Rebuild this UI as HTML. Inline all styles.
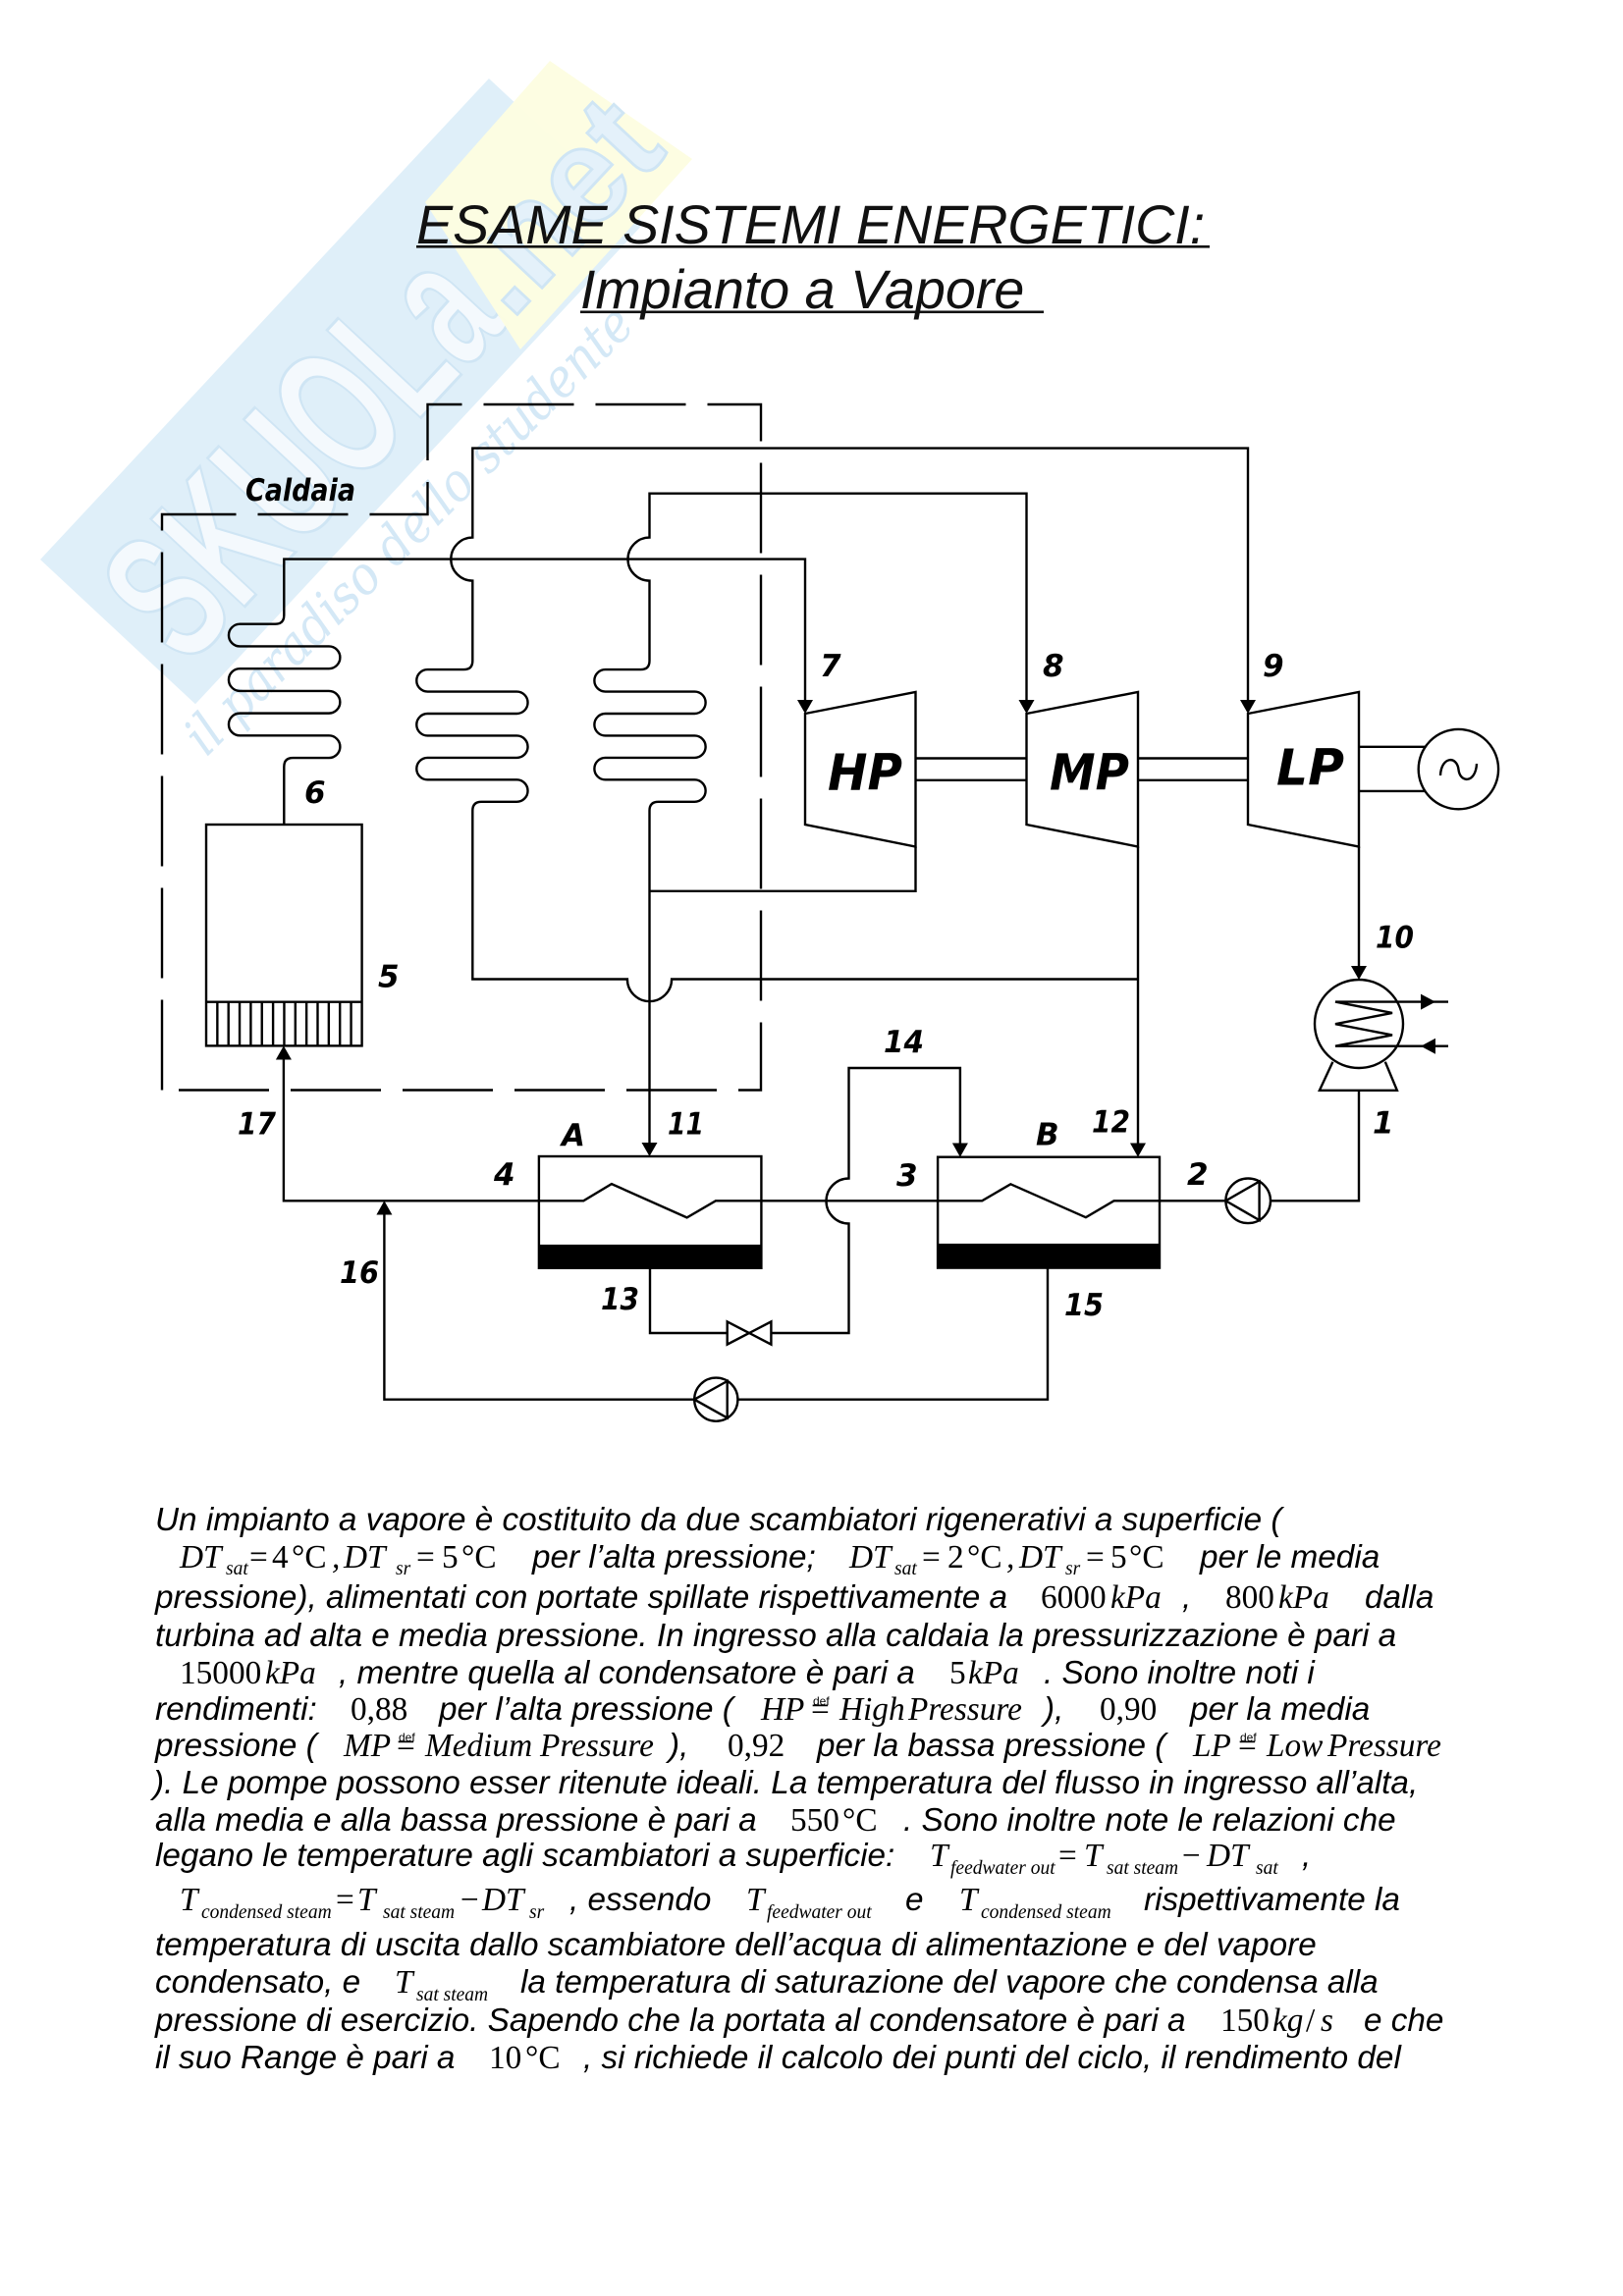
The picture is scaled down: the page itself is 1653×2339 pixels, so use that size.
<!DOCTYPE html>
<html>
<head>
<meta charset="utf-8">
<style>
html,body{margin:0;padding:0;background:#fff;}
svg{display:block;}
.p{font-family:"Liberation Sans",Arial,sans-serif;font-style:italic;font-size:33.3px;fill:#000;}
.m{font-family:"Liberation Serif","Times New Roman",serif;font-style:italic;font-size:33.3px;fill:#000;}
.u{font-style:normal;}
.s{font-size:19.5px;}
.df{font-family:"Liberation Sans",Arial,sans-serif;font-size:12px;fill:#000;}
.lb{font-family:"DejaVu Sans","Liberation Sans",sans-serif;font-weight:bold;font-style:oblique;font-size:31px;fill:#000;}
.big{font-family:"DejaVu Sans","Liberation Sans",sans-serif;font-weight:bold;font-style:oblique;font-size:51px;fill:#000;}
.ln{fill:none;stroke:#000;stroke-width:2.4;stroke-linejoin:miter;}
.ttl{font-family:"Liberation Sans",Arial,sans-serif;font-style:italic;font-size:55.6px;fill:#111;}
</style>
</head>
<body>
<svg width="1653" height="2339" viewBox="0 0 1653 2339" xmlns="http://www.w3.org/2000/svg">
<rect x="0" y="0" width="1653" height="2339" fill="#fff"/>

<!-- watermark -->
<g transform="translate(41,570) rotate(-47)">
  <rect x="0" y="0" width="670" height="216" fill="#dfeff9"/>
  <text x="20" y="185" font-family="Liberation Sans, sans-serif" font-weight="bold" font-size="190" fill="#f4f9fd" stroke="#cfe5f4" stroke-width="3" textLength="480" lengthAdjust="spacingAndGlyphs">SKUOLa</text>
</g>
<polygon points="560,62 705,162 530,356 433,206" fill="#fdfde0" opacity="0.95"/>
<g transform="translate(41,570) rotate(-47)">
  <text x="505" y="185" font-family="Liberation Sans, sans-serif" font-weight="bold" font-size="140" fill="#e4f1fa" stroke="#cfe5f4" stroke-width="3" textLength="235" lengthAdjust="spacingAndGlyphs">.net</text>
</g>
<text transform="translate(210,772) rotate(-45)" font-family="DejaVu Serif, serif" font-style="italic" font-size="54" fill="#d4e8f6" textLength="620" lengthAdjust="spacingAndGlyphs">il paradiso dello studente</text>

<!-- title -->
<text class="ttl" x="424" y="248">ESAME SISTEMI ENERGETICI:</text>
<rect x="424" y="250" width="808" height="2.6" fill="#111"/>
<text class="ttl" x="591" y="314">Impianto a Vapore</text>
<rect x="591" y="316.5" width="472" height="2.6" fill="#111"/>

<!-- Caldaia dashed boundary -->
<path class="ln" d="M165,1110.5 L165,524 L435.5,524 L435.5,412 L775,412 L775,1110.5 Z" stroke-dasharray="92 22"/>
<text class="lb" x="250" y="510" font-size="30" textLength="112" lengthAdjust="spacingAndGlyphs">Caldaia</text>

<!-- top steam lines -->
<path class="ln" d="M1271,713 L1271,456.6 L481.3,456.6 L481.3,547.6 A22,22 0 0 0 481.3,591.6 L481.3,673.1 Q481.3,682.1 472.3,682.1 L435.5,682.1 A11.22,11.22 0 0 0 435.5,704.55 L526.3,704.55 A11.22,11.22 0 0 1 526.3,727 L435.5,727 A11.22,11.22 0 0 0 435.5,749.45 L526.3,749.45 A11.22,11.22 0 0 1 526.3,771.9 L435.5,771.9 A11.22,11.22 0 0 0 435.5,794.35 L526.3,794.35 A11.22,11.22 0 0 1 526.3,816.8 L490.3,816.8 Q481.3,816.8 481.3,825.8 L481.3,997.5 L638.9,997.5 A22.6,22.6 0 0 0 684.1,997.5 L1159,997.5"/>
<path class="ln" d="M1045.5,713 L1045.5,502.7 L661.5,502.7 L661.5,547.6 A22,22 0 0 0 661.5,591.6 L661.5,673.1 Q661.5,682.1 652.5,682.1 L616.6,682.1 A11.22,11.22 0 0 0 616.6,704.55 L707.4,704.55 A11.22,11.22 0 0 1 707.4,727 L616.6,727 A11.22,11.22 0 0 0 616.6,749.45 L707.4,749.45 A11.22,11.22 0 0 1 707.4,771.9 L616.6,771.9 A11.22,11.22 0 0 0 616.6,794.35 L707.4,794.35 A11.22,11.22 0 0 1 707.4,816.8 L670.5,816.8 Q661.5,816.8 661.5,825.8 L661.5,1164"/>
<path class="ln" d="M820,713 L820,569.6 L289.3,569.6 L289.3,626.7 Q289.3,635.7 280.3,635.7 L244.3,635.7 A11.365,11.365 0 0 0 244.3,658.43 L335,658.43 A11.365,11.365 0 0 1 335,681.16 L244.3,681.16 A11.365,11.365 0 0 0 244.3,703.89 L335,703.89 A11.365,11.365 0 0 1 335,726.62 L244.3,726.62 A11.365,11.365 0 0 0 244.3,749.35 L335,749.35 A11.365,11.365 0 0 1 335,772.08 L298.3,772.08 Q289.3,772.08 289.3,781.08 L289.3,840"/>

<!-- arrows at turbine inlets -->
<polygon points="820,727 812,713 828,713"/>
<polygon points="1045.5,727 1037.5,713 1053.5,713"/>
<polygon points="1271,727 1263,713 1279,713"/>

<!-- turbines -->
<polygon class="ln" points="820,727 932.5,705 932.5,862.5 820,840"/>
<polygon class="ln" points="1045.5,727 1159,705 1159,862.5 1045.5,840"/>
<polygon class="ln" points="1271,727 1384,705 1384,862.5 1271,840"/>
<text class="big" x="843" y="804.5" textLength="76" lengthAdjust="spacingAndGlyphs">HP</text>
<text class="big" x="1069" y="804.5" textLength="81" lengthAdjust="spacingAndGlyphs">MP</text>
<text class="big" x="1300" y="799.6" textLength="69" lengthAdjust="spacingAndGlyphs">LP</text>

<!-- shafts -->
<path class="ln" d="M932.5,772.5 L1045.5,772.5 M932.5,794.8 L1045.5,794.8 M1159,772.5 L1271,772.5 M1159,794.8 L1271,794.8"/>
<!-- generator -->
<path class="ln" d="M1384,760.8 L1452,760.8 M1384,805.9 L1452,805.9"/>
<circle class="ln" cx="1485.4" cy="783.6" r="40.7"/>
<path class="ln" d="M1467,790 C1468,770 1484,770 1485.5,784 C1487,798 1503,798 1504,778" stroke-width="2"/>

<!-- HP exhaust -->
<path class="ln" d="M932.5,862.5 L932.5,907.8 L661.5,907.8"/>
<!-- MP exhaust to B -->
<path class="ln" d="M1159,862.5 L1159,1164.5"/>
<polygon points="1159,1178.7 1151,1164.5 1167,1164.5"/>
<!-- arrow 11 into A -->
<polygon points="661.5,1178 653.5,1164 669.5,1164"/>
<!-- LP exhaust -->
<path class="ln" d="M1384,862.5 L1384,984"/>
<polygon points="1384,998 1376,984 1392,984"/>

<!-- condenser -->
<circle class="ln" cx="1384" cy="1043" r="45"/>
<path class="ln" d="M1475,1020.6 L1360,1020.6 L1418,1031.9 L1360,1043.2 L1418,1054.4 L1360,1065.7 L1475,1065.7" stroke-width="2.2"/>
<polygon points="1462,1020.6 1447,1012.6 1447,1028.6"/>
<polygon points="1447,1065.7 1462,1057.7 1462,1073.7"/>
<path class="ln" d="M1357.4,1081.7 L1343.9,1110.8 L1422.9,1110.8 L1410.8,1081.7"/>
<path class="ln" d="M1384,1110.8 L1384,1223.3 L1294,1223.3"/>
<!-- pump 2 -->
<circle class="ln" cx="1271.2" cy="1223.3" r="22.8"/>
<polygon class="ln" points="1248.4,1223.3 1282.6,1203.6 1282.6,1243"/>

<!-- feedwater line -->
<path class="ln" d="M1248.4,1223.3 L1134.5,1223.3 L1105.9,1240.2 L1029.3,1206.3 L1000.2,1223.3 L728.9,1223.3 L699.6,1240.4 L622.9,1206.1 L594.3,1223.3 L288.9,1223.3 L288.9,1079.5"/>
<polygon points="288.9,1065.4 280.9,1079.5 296.9,1079.5"/>

<!-- boiler -->
<rect class="ln" x="210" y="840" width="158.6" height="225.4"/>
<path class="ln" d="M210,1020.7 L368.6,1020.7" />
<path class="ln" stroke-width="1.8" d="M221.35,1020.7 V1065.4 M232.7,1020.7 V1065.4 M244.05,1020.7 V1065.4 M255.4,1020.7 V1065.4 M266.75,1020.7 V1065.4 M278.1,1020.7 V1065.4 M289.45,1020.7 V1065.4 M300.8,1020.7 V1065.4 M312.15,1020.7 V1065.4 M323.5,1020.7 V1065.4 M334.85,1020.7 V1065.4 M346.2,1020.7 V1065.4 M357.55,1020.7 V1065.4"/>

<!-- heater A -->
<rect class="ln" x="548.9" y="1178" width="226.5" height="113.8"/>
<rect x="548.9" y="1267.9" width="226.5" height="23.9" fill="#000"/>
<!-- heater B -->
<rect class="ln" x="955.1" y="1178.7" width="225.9" height="112.9"/>
<rect x="955.1" y="1266.9" width="225.9" height="24.7" fill="#000"/>

<!-- line 14 -->
<path class="ln" d="M785.4,1358 L864.5,1358 L864.5,1246.5 A23,23 0 0 1 864.5,1200.5 L864.5,1088 L977.9,1088 L977.9,1164.5"/>
<polygon points="977.9,1178.7 969.9,1164.5 985.9,1164.5"/>
<!-- A outlet 13 -->
<path class="ln" d="M662,1291.8 L662,1358 L740.7,1358"/>
<!-- valve -->
<polygon class="ln" points="740.7,1346.4 785.4,1369.6 785.4,1346.4 740.7,1369.6"/>

<!-- B outlet 15 to pump and 16 -->
<path class="ln" d="M1067,1291.6 L1067,1425.7 L751.4,1425.7"/>
<circle class="ln" cx="729.3" cy="1425.7" r="22.1"/>
<polygon class="ln" points="707.2,1425.7 740.7,1407 740.7,1444.4"/>
<path class="ln" d="M707.2,1425.7 L391.4,1425.7 L391.4,1237.5"/>
<polygon points="391.4,1223.3 383.4,1237.5 399.4,1237.5"/>

<!-- labels -->
<text class="lb" x="835" y="689">7</text>
<text class="lb" x="1062" y="689">8</text>
<text class="lb" x="1286" y="689">9</text>
<text class="lb" x="1401" y="965.5" textLength="39" lengthAdjust="spacingAndGlyphs">10</text>
<text class="lb" x="310" y="818">6</text>
<text class="lb" x="385" y="1005.5">5</text>
<text class="lb" x="242" y="1155.5" textLength="39" lengthAdjust="spacingAndGlyphs">17</text>
<text class="lb" x="572" y="1167">A</text>
<text class="lb" x="680" y="1155.5" textLength="37" lengthAdjust="spacingAndGlyphs">11</text>
<text class="lb" x="503" y="1207">4</text>
<text class="lb" x="346" y="1307" textLength="40" lengthAdjust="spacingAndGlyphs">16</text>
<text class="lb" x="612" y="1334" textLength="39" lengthAdjust="spacingAndGlyphs">13</text>
<text class="lb" x="900" y="1072" textLength="41" lengthAdjust="spacingAndGlyphs">14</text>
<text class="lb" x="1112" y="1153.5" textLength="39" lengthAdjust="spacingAndGlyphs">12</text>
<text class="lb" x="1055" y="1166.5">B</text>
<text class="lb" x="913" y="1208">3</text>
<text class="lb" x="1209" y="1207">2</text>
<text class="lb" x="1398" y="1154.5">1</text>
<text class="lb" x="1084" y="1340" textLength="40" lengthAdjust="spacingAndGlyphs">15</text>

<!-- paragraph -->
<text class="p" x="158" y="1559">Un impianto a vapore è costituito da due scambiatori rigenerativi a superficie (</text>
<text class="m" y="1597"><tspan x="183">DT</tspan><tspan class="s" x="230" dy="7">sat</tspan><tspan class="u" x="254" dy="-7">=</tspan><tspan class="u" x="277">4</tspan><tspan class="u" x="297">°C</tspan><tspan x="338">,</tspan><tspan x="350">DT</tspan><tspan class="s" x="403" dy="7">sr</tspan><tspan class="u" x="424" dy="-7">=</tspan><tspan class="u" x="450">5</tspan><tspan class="u" x="470">°C</tspan></text>
<text class="p" x="542" y="1597">per l’alta pressione;</text>
<text class="m" y="1597"><tspan x="865">DT</tspan><tspan class="s" x="911" dy="7">sat</tspan><tspan class="u" x="939" dy="-7">=</tspan><tspan class="u" x="965">2</tspan><tspan class="u" x="985">°C</tspan><tspan x="1025">,</tspan><tspan x="1038">DT</tspan><tspan class="s" x="1085" dy="7">sr</tspan><tspan class="u" x="1106" dy="-7">=</tspan><tspan class="u" x="1131">5</tspan><tspan class="u" x="1150">°C</tspan></text>
<text class="p" x="1222" y="1597">per le media</text>
<text class="p" x="158" y="1638">pressione), alimentati con portate spillate rispettivamente a</text>
<text class="m" y="1638"><tspan class="u" x="1060">6000</tspan><tspan x="1131">kPa</tspan></text>
<text class="p" x="1204" y="1638">,</text>
<text class="m" y="1638"><tspan class="u" x="1248">800</tspan><tspan x="1302">kPa</tspan></text>
<text class="p" x="1390" y="1638">dalla</text>
<text class="p" x="158" y="1677">turbina ad alta e media pressione. In ingresso alla caldaia la pressurizzazione è pari a</text>
<text class="m" y="1715"><tspan class="u" x="183">15000</tspan><tspan x="270">kPa</tspan></text>
<text class="p" x="345" y="1715">, mentre quella al condensatore è pari a</text>
<text class="m" y="1715"><tspan class="u" x="967">5</tspan><tspan x="986">kPa</tspan></text>
<text class="p" x="1063" y="1715">. Sono inoltre noti i</text>
<text class="p" x="158" y="1752">rendimenti:</text>
<text class="m u" x="357" y="1752">0,88</text>
<text class="p" x="447" y="1752">per l’alta pressione (</text>
<text class="m" y="1752"><tspan x="775">HP</tspan><tspan class="u" x="826">=</tspan><tspan x="855">High</tspan><tspan x="925">Pressure</tspan></text>
<text class="df" x="828" y="1737">def</text>
<text class="p" x="1063" y="1752">),</text>
<text class="m u" x="1120" y="1752">0,90</text>
<text class="p" x="1212" y="1752">per la media</text>
<text class="p" x="158" y="1789">pressione (</text>
<text class="m" y="1789"><tspan x="350">MP</tspan><tspan class="u" x="404">=</tspan><tspan x="433">Medium</tspan><tspan x="550">Pressure</tspan></text>
<text class="df" x="406" y="1774">def</text>
<text class="p" x="681" y="1789">),</text>
<text class="m u" x="741" y="1789">0,92</text>
<text class="p" x="832" y="1789">per la bassa pressione (</text>
<text class="m" y="1789"><tspan x="1215">LP</tspan><tspan class="u" x="1261">=</tspan><tspan x="1290">Low</tspan><tspan x="1352">Pressure</tspan></text>
<text class="df" x="1263" y="1774">def</text>
<text class="p" x="156" y="1827">). Le pompe possono esser ritenute ideali. La temperatura del flusso in ingresso all’alta,</text>
<text class="p" x="158" y="1865">alla media e alla bassa pressione è pari a</text>
<text class="m" y="1865"><tspan class="u" x="805">550</tspan><tspan class="u" x="858">°C</tspan></text>
<text class="p" x="920" y="1865">. Sono inoltre note le relazioni che</text>
<text class="p" x="158" y="1901">legano le temperature agli scambiatori a superficie:</text>
<text class="m" y="1901"><tspan x="947">T</tspan><tspan class="s" x="968" dy="8">feedwater out</tspan><tspan class="u" x="1078" dy="-8">=</tspan><tspan x="1104">T</tspan><tspan class="s" x="1127" dy="8">sat steam</tspan><tspan class="u" x="1204" dy="-8">−</tspan><tspan x="1229">DT</tspan><tspan class="s" x="1279" dy="8">sat</tspan></text>
<text class="p" x="1326" y="1901">,</text>
<text class="m" y="1946"><tspan x="183">T</tspan><tspan class="s" x="205" dy="8">condensed steam</tspan><tspan class="u" x="342" dy="-8">=</tspan><tspan x="364">T</tspan><tspan class="s" x="390" dy="8">sat steam</tspan><tspan class="u" x="469" dy="-8">−</tspan><tspan x="491">DT</tspan><tspan class="s" x="539" dy="8">sr</tspan></text>
<text class="p" x="580" y="1946">, essendo</text>
<text class="m" y="1946"><tspan x="760">T</tspan><tspan class="s" x="781" dy="8">feedwater out</tspan></text>
<text class="p" x="922" y="1946">e</text>
<text class="m" y="1946"><tspan x="977">T</tspan><tspan class="s" x="999" dy="8">condensed steam</tspan></text>
<text class="p" x="1165" y="1946">rispettivamente la</text>
<text class="p" x="158" y="1992">temperatura di uscita dallo scambiatore dell’acqua di alimentazione e del vapore</text>
<text class="p" x="158" y="2030">condensato, e</text>
<text class="m" y="2030"><tspan x="402">T</tspan><tspan class="s" x="424" dy="8">sat steam</tspan></text>
<text class="p" x="530" y="2030">la temperatura di saturazione del vapore che condensa alla</text>
<text class="p" x="158" y="2069">pressione di esercizio. Sapendo che la portata al condensatore è pari a</text>
<text class="m" y="2069"><tspan class="u" x="1243">150</tspan><tspan x="1296">kg</tspan><tspan class="u" x="1330">/</tspan><tspan x="1345">s</tspan></text>
<text class="p" x="1389" y="2069">e che</text>
<text class="p" x="158" y="2107">il suo Range è pari a</text>
<text class="m" y="2107"><tspan class="u" x="498">10</tspan><tspan class="u" x="535">°C</tspan></text>
<text class="p" x="594" y="2107">, si richiede il calcolo dei punti del ciclo, il rendimento del</text>
</svg>
</body>
</html>
